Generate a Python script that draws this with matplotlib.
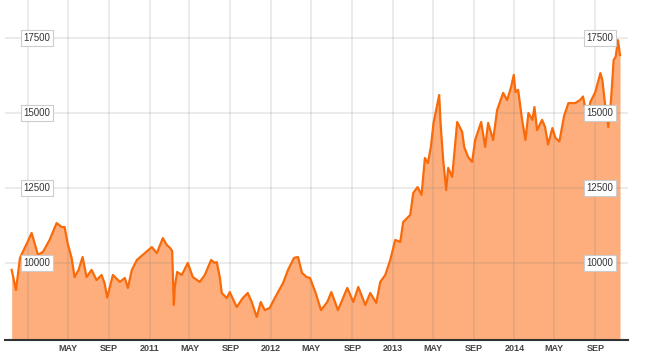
import matplotlib
matplotlib.use("Agg")
import matplotlib.pyplot as plt
import pandas as pd

# valeurs (indice, nov. 2009 -> nov. 2014)
dates = [
    "2009-11-13", "2009-11-26", "2009-12-08", "2009-12-29", "2010-01-12", "2010-01-27",
    "2010-01-31", "2010-02-15", "2010-03-07", "2010-03-28", "2010-04-12", "2010-04-21",
    "2010-04-30", "2010-05-12", "2010-05-21", "2010-06-02", "2010-06-14", "2010-06-26",
    "2010-07-11", "2010-07-26", "2010-08-10", "2010-08-19", "2010-08-27", "2010-09-13",
    "2010-10-04", "2010-10-19", "2010-10-28", "2010-11-09", "2010-11-24", "2010-12-18",
    "2011-01-08", "2011-01-23", "2011-02-10", "2011-02-22", "2011-03-04", "2011-03-10",
    "2011-03-15", "2011-03-18", "2011-03-25", "2011-04-08", "2011-04-26", "2011-05-11",
    "2011-06-01", "2011-06-16", "2011-07-05", "2011-07-16", "2011-07-22", "2011-07-31",
    "2011-08-06", "2011-08-21", "2011-08-30", "2011-09-20", "2011-10-08", "2011-10-23",
    "2011-11-04", "2011-11-19", "2011-12-01", "2011-12-13", "2011-12-28", "2012-01-12",
    "2012-02-06", "2012-02-21", "2012-03-10", "2012-03-22", "2012-04-03", "2012-04-17",
    "2012-04-27", "2012-05-14", "2012-05-30", "2012-06-18", "2012-06-30", "2012-07-20",
    "2012-08-17", "2012-09-04", "2012-09-19", "2012-10-10", "2012-10-25", "2012-11-12",
    "2012-11-24", "2012-12-09", "2012-12-24", "2013-01-08", "2013-01-23", "2013-02-01",
    "2013-02-22", "2013-03-03", "2013-03-16", "2013-03-28", "2013-04-07", "2013-04-16",
    "2013-04-25", "2013-05-03", "2013-05-20", "2013-05-24", "2013-06-01", "2013-06-10",
    "2013-06-16", "2013-06-28", "2013-07-13", "2013-07-28", "2013-08-03", "2013-08-15",
    "2013-08-27", "2013-09-05", "2013-09-23", "2013-10-05", "2013-10-14", "2013-10-29",
    "2013-11-10", "2013-11-28", "2013-12-10", "2013-12-22", "2013-12-30", "2014-01-04",
    "2014-01-12", "2014-01-24", "2014-02-03", "2014-02-12", "2014-02-24", "2014-03-02",
    "2014-03-10", "2014-03-25", "2014-04-03", "2014-04-12", "2014-04-25", "2014-05-04",
    "2014-05-16", "2014-05-30", "2014-06-12", "2014-07-02", "2014-07-17", "2014-07-26",
    "2014-08-08", "2014-08-17", "2014-09-01", "2014-09-16", "2014-09-22", "2014-10-01",
    "2014-10-10", "2014-10-18", "2014-10-26", "2014-11-01", "2014-11-08", "2014-11-14",
]
values = [
    9770, 9100, 10170, 10660, 11000, 10430,
    10270, 10370, 10770, 11330, 11200, 11200,
    10660, 10170, 9530, 9770, 10200, 9530,
    9770, 9430, 9600, 9330, 8850, 9600,
    9370, 9500, 9170, 9770, 10100, 10330,
    10530, 10330, 10830, 10600, 10500, 10400,
    8600, 9200, 9700, 9600, 10000, 9530,
    9370, 9600, 10100, 10000, 10030, 9530,
    9000, 8830, 9030, 8530, 8830, 9000,
    8700, 8200, 8700, 8430, 8500, 8830,
    9330, 9770, 10170, 10200, 9670, 9530,
    9500, 9000, 8430, 8700, 9030, 8430,
    9170, 8700, 9200, 8600, 9000, 8670,
    9370, 9600, 10100, 10770, 10700, 11370,
    11600, 12330, 12530, 12270, 13500, 13330,
    13870, 14670, 15600, 14670, 13430, 12430,
    13170, 12870, 14700, 14370, 13870, 13530,
    13370, 14100, 14700, 13870, 14670, 14100,
    15100, 15670, 15430, 15870, 16270, 15700,
    15770, 14770, 14100, 15000, 14770, 15200,
    14430, 14770, 14530, 13950, 14500, 14170,
    14050, 14900, 15330, 15330, 15430, 15550,
    14800, 15370, 15700, 16330, 16100, 15200,
    14530, 15430, 16770, 16870, 17430, 16930,
]

tick_dates = ["2010-01-01", "2010-05-01", "2010-09-01", "2011-01-01", "2011-05-01",
              "2011-09-01", "2012-01-01", "2012-05-01", "2012-09-01", "2013-01-01",
              "2013-05-01", "2013-09-01", "2014-01-01", "2014-05-01", "2014-09-01"]
tick_labels = ["", "MAY", "SEP", "2011", "MAY", "SEP", "2012", "MAY", "SEP",
               "2013", "MAY", "SEP", "2014", "MAY", "SEP"]
y_levels = [10000, 12500, 15000, 17500]

x = pd.to_datetime(dates)
y_min, y_max = 7433, 18767

fig = plt.figure(figsize=(6.68, 3.57), dpi=100)
ax = fig.add_axes([5 / 668, 17 / 357, 623 / 668, 340 / 357])

ax.fill_between(x, values, y_min, color="#FDAE7C", linewidth=0, zorder=1)
ax.plot(x, values, color="#F96A0A", linewidth=1.6, zorder=3)

ax.set_xlim(pd.Timestamp("2009-10-24"), pd.Timestamp("2014-12-08"))
ax.set_ylim(y_min, y_max)

ax.set_xticks(pd.to_datetime(tick_dates))
ax.set_xticklabels(tick_labels, fontsize=6.5, fontweight="bold", color="#444444",
                   family="Liberation Sans")
ax.tick_params(axis="x", length=0, pad=3)
ax.set_yticks(y_levels)
ax.set_yticklabels([])
ax.tick_params(axis="y", length=0)
ax.grid(True, color="#7A7A7A", alpha=0.18, linewidth=1.2)
ax.set_axisbelow(False)

for s in ["top", "left", "right"]:
    ax.spines[s].set_visible(False)
ax.spines["bottom"].set_color("#333333")
ax.spines["bottom"].set_linewidth(1.5)
ax.spines["bottom"].set_zorder(4)

box = dict(boxstyle="square,pad=0.3", facecolor="white", edgecolor="#CCCCCC", linewidth=0.8)
for lv in y_levels:
    for xf in (0.0514, 0.955):
        ax.text(xf, lv, str(lv), transform=ax.get_yaxis_transform(), ha="center",
                va="center", fontsize=7, color="#333333", family="Liberation Sans",
                bbox=box, zorder=5)

fig.savefig("out.png", dpi=100)
